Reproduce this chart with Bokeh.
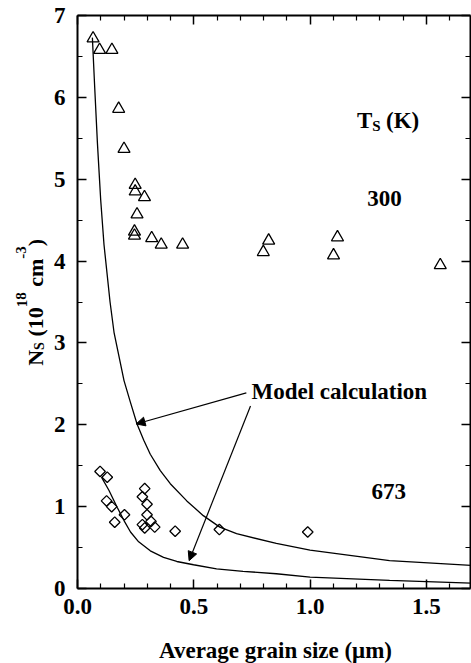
from bokeh.plotting import figure
from bokeh.layouts import row, column
from bokeh.models import (Range1d, LinearAxis, FixedTicker, PrintfTickFormatter, Label, Arrow,
                          NormalHead, CustomJSTickFormatter)
from bokeh.embed import file_html
from bokeh.resources import INLINE

# ---- data ----
grain_300 = [0.067, 0.095, 0.148, 0.177, 0.200, 0.248, 0.248, 0.288, 0.256, 0.245,
             0.245, 0.319, 0.360, 0.452, 0.822, 0.799, 1.118, 1.101, 1.560]
ns_300 = [6.72, 6.58, 6.58, 5.86, 5.37, 4.93, 4.85, 4.78, 4.57, 4.36,
          4.31, 4.28, 4.20, 4.20, 4.25, 4.11, 4.29, 4.07, 3.95]

grain_673 = [0.097, 0.128, 0.125, 0.147, 0.160, 0.202, 0.289, 0.279, 0.299, 0.299,
             0.279, 0.289, 0.316, 0.332, 0.420, 0.610, 0.990]
ns_673 = [1.43, 1.36, 1.07, 1.00, 0.81, 0.90, 1.22, 1.12, 1.03, 0.90,
          0.78, 0.74, 0.82, 0.75, 0.70, 0.72, 0.69]

model_300_x = [0.064, 0.074, 0.0855, 0.0997, 0.114, 0.140, 0.157, 0.200, 0.228, 0.256,
               0.285, 0.313, 0.356, 0.399, 0.470, 0.541, 0.612, 0.684, 0.855, 1.000,
               1.342, 1.700]
model_300_y = [6.73, 6.12, 5.45, 4.75, 4.20, 3.50, 3.13, 2.54, 2.27, 2.01,
               1.81, 1.64, 1.44, 1.28, 1.07, 0.89, 0.75, 0.67, 0.55, 0.47,
               0.34, 0.28]

model_673_x = [0.103, 0.135, 0.171, 0.200, 0.228, 0.263, 0.313, 0.370, 0.427, 0.499,
               0.598, 0.712, 0.855, 1.000, 1.342, 1.700]
model_673_y = [1.36, 1.20, 0.99, 0.83, 0.69, 0.57, 0.46, 0.38, 0.33, 0.29,
               0.24, 0.21, 0.18, 0.14, 0.10, 0.065]

x_major = [0.0, 0.5, 1.0, 1.5]
x_minor = [0.1, 0.2, 0.3, 0.4, 0.6, 0.7, 0.8, 0.9, 1.1, 1.2, 1.3, 1.4, 1.6, 1.7]
y_major = [0, 1, 2, 3, 4, 5, 6, 7]
y_minor = [0.5, 1.5, 2.5, 3.5, 4.5, 5.5, 6.5]

# texts
label_ts = ("T", "S", "(K)")
label_300 = "300"
label_673 = "673"
label_model = "Model calculation"
x_title = "Average grain size (\u03bcm)"
y_title_parts = ["N", "S", "(10", "18", "cm", "-3", ")"]

# arrow anchors (data units)
arrow_starts = [(0.726, 2.39), (0.744, 2.23)]
arrow_ends = [(0.252, 2.01), (0.480, 0.34)]

FONT = "Liberation Serif"
FS = "23px"

LEFT_W, MAIN_W, MAIN_H, BOTTOM_H = 50, 421, 633, 30


def bare(width, height):
    f = figure(width=width, height=height, x_range=Range1d(0, width), y_range=Range1d(0, height),
               output_backend="svg", toolbar_location=None, x_axis_type=None, y_axis_type=None,
               min_border=0)
    f.grid.visible = False
    f.outline_line_color = None
    f.background_fill_color = "white"
    f.border_fill_color = "white"
    return f


def add_label(fig, text, x, y, size=FS, xo=0, yo=0, align="left", angle=0):
    fig.add_layout(Label(x=x, y=y, text=text, x_offset=xo, y_offset=yo, angle=angle,
                         text_font=FONT, text_font_size=size, text_font_style="bold",
                         text_color="black", text_align=align, text_baseline="middle"))


p = figure(width=MAIN_W, height=MAIN_H, x_range=Range1d(0, 1.69), y_range=Range1d(0, 7),
           output_backend="svg", toolbar_location=None,
           x_axis_type=None, y_axis_type=None,
           min_border_left=26, min_border_right=1, min_border_top=15, min_border_bottom=45)
p.grid.visible = False
p.outline_line_color = None
p.background_fill_color = "white"
p.border_fill_color = "white"


def style_axis(ax, labels):
    ax.axis_line_width = 2
    ax.axis_line_color = "black"
    ax.major_tick_in = 9
    ax.major_tick_out = 0
    ax.minor_tick_in = 5
    ax.minor_tick_out = 0
    ax.major_tick_line_width = 1.5
    ax.minor_tick_line_width = 1.2
    ax.major_tick_line_color = "black"
    ax.minor_tick_line_color = "black"
    if labels:
        ax.major_label_text_font = FONT
        ax.major_label_text_font_size = FS
        ax.major_label_text_font_style = "bold"
        ax.major_label_text_color = "black"
    else:
        ax.formatter = CustomJSTickFormatter(code="return '';")
        ax.major_label_standoff = 0
    return ax


xb = style_axis(LinearAxis(ticker=FixedTicker(ticks=x_major, minor_ticks=x_minor),
                           formatter=PrintfTickFormatter(format="%.1f")), True)
xb.major_label_standoff = 10
p.add_layout(xb, "below")

xt = style_axis(LinearAxis(ticker=FixedTicker(ticks=x_major, minor_ticks=x_minor)), False)
p.add_layout(xt, "above")

yl = style_axis(LinearAxis(ticker=FixedTicker(ticks=y_major, minor_ticks=y_minor)), True)
yl.major_label_standoff = 12
p.add_layout(yl, "left")

yr = style_axis(LinearAxis(ticker=FixedTicker(ticks=y_major, minor_ticks=y_minor)), False)
p.add_layout(yr, "right")

# model curves
p.line(model_300_x, model_300_y, line_color="black", line_width=1.3)
p.line(model_673_x, model_673_y, line_color="black", line_width=1.3)

# data
p.scatter(grain_300, ns_300, marker="triangle", size=12, fill_color=None,
          line_color="black", line_width=1.3)
p.scatter(grain_673, ns_673, marker="square", angle=0.7854, size=7.5, fill_color=None,
          line_color="black", line_width=1.3)

# arrows
for (xs, ys), (xe, ye) in zip(arrow_starts, arrow_ends):
    p.add_layout(Arrow(end=NormalHead(size=9, fill_color="black", line_color="black", line_width=1),
                       x_start=xs, y_start=ys, x_end=xe, y_end=ye,
                       line_color="black", line_width=1.2))

# in-plot labels (vertically centred on the cap height)
add_label(p, label_ts[0], 1.331, 5.72, xo=-30)
add_label(p, label_ts[1], 1.331, 5.72, size="15px", xo=-14.7, yo=-6)
add_label(p, label_ts[2], 1.331, 5.72, xo=-1)
add_label(p, label_300, 1.32, 4.77, align="center")
add_label(p, label_673, 1.338, 1.18, align="center")
add_label(p, label_model, 0.748, 2.41)

# left strip: rotated y title N_S (10^18 cm^-3)
left = bare(LEFT_W, MAIN_H)
sizes = ["22px", "14px", "22px", "15px", "22px", "15px", "22px"]
offsets = [0.0, 15.9, 29.2, 58.5, 79.0, 107.1, 119.6]
shifts = [0, 4, 0, -14, 0, -14, 0]
for txt, sz, off, sh in zip(y_title_parts, sizes, offsets, shifts):
    add_label(left, txt, 35, MAIN_H - 387, size=sz, xo=sh, yo=off, angle=1.5708)

# bottom strip: x title
bottom = bare(LEFT_W + MAIN_W, BOTTOM_H)
add_label(bottom, x_title, 275, 13, align="center")

layout = column(row(left, p, spacing=0), bottom, spacing=0)

open("out.html", "w").write(file_html(layout, INLINE))
